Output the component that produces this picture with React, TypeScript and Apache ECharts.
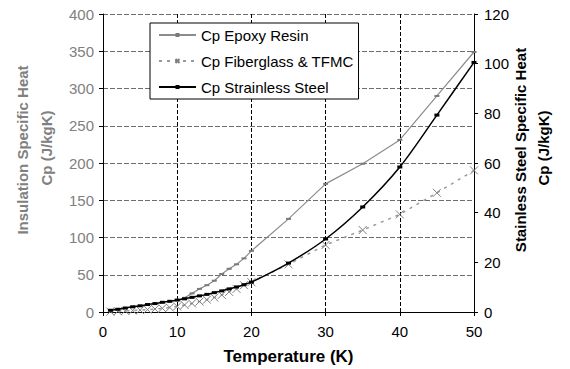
import React, { useEffect, useRef } from "react";
import * as echarts from "echarts";

const steelT = [1, 2, 3, 4, 5, 6, 7, 8, 9, 10, 11, 12, 13, 14, 15, 16, 17, 18, 19, 20, 25, 30, 35, 40, 45, 50];
const steelCp = [0.7, 1.1, 1.6, 2.1, 2.5, 3.0, 3.4, 3.9, 4.3, 4.8, 5.3, 5.9, 6.5, 7.1, 7.8, 8.5, 9.3, 10.1, 11.0, 12.0, 19.7, 29.4, 42.3, 58.4, 79.3, 100.5];

const epoxyT = [10, 11, 12, 13, 14, 15, 16, 17, 18, 19, 20, 25, 30, 35, 40, 45, 50];
const epoxyCp = [16, 19, 25, 31, 36, 42, 51, 58, 64, 72, 82, 125, 172, 199, 231, 290, 349];

const fiberT = [1, 2, 3, 4, 5, 6, 7, 8, 9, 10, 11, 12, 13, 14, 15, 16, 17, 18, 19, 20, 25, 30, 35, 40, 45, 50];
const fiberCp = [0.5, 1, 1.5, 2, 2.5, 3.2, 4, 5, 6, 7.5, 9.5, 11.5, 14, 16.5, 19.5, 23, 27, 31, 36, 40, 64, 90, 110, 131, 160, 190];

const FONT = "'Liberation Sans', Arial, sans-serif";

export default function App() {
  const ref = useRef<HTMLDivElement>(null);
  useEffect(() => {
    if (!ref.current) return;
    const chart = echarts.init(ref.current, undefined, { renderer: "svg" });
    const pairs = (xs: number[], ys: number[]) => xs.map((x, i) => [x, ys[i]]);
    chart.setOption({
      animation: false,
      backgroundColor: "#ffffff",
      textStyle: { fontFamily: FONT },
      grid: { left: 103, right: 96, top: 14, bottom: 57 },
      legend: {
        orient: "vertical",
        left: 150,
        top: 23,
        backgroundColor: "#ffffff",
        borderColor: "#000000",
        borderWidth: 1,
        borderRadius: 0,
        padding: [4.5, 5, 4.5, 8],
        itemWidth: 37,
        itemHeight: 5,
        itemGap: 11,
        textStyle: { fontFamily: FONT, fontSize: 15, color: "#000000" },
        data: ["Cp Epoxy Resin", "Cp Fiberglass & TFMC", "Cp Strainless Steel"],
      },
      xAxis: {
        type: "value",
        min: 0,
        max: 50,
        interval: 10,
        axisLine: { show: true, lineStyle: { color: "#000", width: 1 } },
        axisTick: { show: true, length: 4, lineStyle: { color: "#000" } },
        axisLabel: { color: "#000", fontSize: 15, fontFamily: FONT, margin: 12 },
        splitLine: { show: true, lineStyle: { type: [4, 2], color: "#000", width: 1 } },
      },
      yAxis: [
        {
          type: "value",
          min: 0,
          max: 400,
          interval: 50,
          position: "left",
          axisLine: { show: true, lineStyle: { color: "#000", width: 1 } },
          axisTick: { show: true, length: 4, lineStyle: { color: "#000" } },
          axisLabel: { color: "#808080", fontSize: 15, fontFamily: FONT, margin: 9 },
          splitLine: { show: true, lineStyle: { type: [5, 2], color: "#6e6e6e", width: 1 } },
        },
        {
          type: "value",
          min: 0,
          max: 120,
          interval: 20,
          position: "right",
          axisLine: { show: true, lineStyle: { color: "#000", width: 1 } },
          axisTick: { show: true, length: 4, lineStyle: { color: "#000" } },
          axisLabel: { color: "#000", fontSize: 15, fontFamily: FONT, margin: 10 },
          splitLine: { show: false },
        },
      ],
      series: [
        {
          name: "Cp Epoxy Resin",
          type: "line",
          yAxisIndex: 0,
          data: pairs(epoxyT, epoxyCp),
          lineStyle: { color: "#8c8c8c", width: 1.2 },
          itemStyle: { color: "#7a7a7a" },
          symbol: "rect",
          symbolSize: [5, 2],
          showSymbol: true,
          z: 2,
        },
        {
          name: "Cp Fiberglass & TFMC",
          type: "line",
          yAxisIndex: 0,
          data: pairs(fiberT, fiberCp),
          lineStyle: { color: "#999999", width: 1.5, type: [3, 5] },
          itemStyle: { color: "none", borderColor: "#7f7f7f", borderWidth: 1 },
          symbol: "path://M0,0L10,10M10,0L0,10",
          symbolSize: 8,
          showSymbol: true,
          z: 2,
        },
        {
          name: "Cp Strainless Steel",
          type: "line",
          yAxisIndex: 1,
          data: pairs(steelT, steelCp),
          smooth: 0.3,
          lineStyle: { color: "#000000", width: 1.5 },
          itemStyle: { color: "#000000" },
          symbol: "rect",
          symbolSize: [5, 3],
          showSymbol: true,
          z: 3,
        },
      ],
      graphic: [
        {
          type: "text",
          x: 22,
          y: 150,
          rotation: Math.PI / 2,
          style: {
            text: "Insulation Specific Heat",
            fill: "#808080",
            font: `bold 15px ${FONT}`,
            align: "center",
            verticalAlign: "middle",
          },
        },
        {
          type: "text",
          x: 46,
          y: 148,
          rotation: Math.PI / 2,
          style: {
            text: "Cp (J/kgK)",
            fill: "#808080",
            font: `bold 15px ${FONT}`,
            align: "center",
            verticalAlign: "middle",
          },
        },
        {
          type: "text",
          x: 520,
          y: 150,
          rotation: Math.PI / 2,
          style: {
            text: "Stainless Steel Specific Heat",
            fill: "#000",
            font: `bold 15px ${FONT}`,
            align: "center",
            verticalAlign: "middle",
          },
        },
        {
          type: "text",
          x: 543,
          y: 148,
          rotation: Math.PI / 2,
          style: {
            text: "Cp (J/kgK)",
            fill: "#000",
            font: `bold 15px ${FONT}`,
            align: "center",
            verticalAlign: "middle",
          },
        },
        {
          type: "text",
          x: 288.5,
          y: 356,
          style: {
            text: "Temperature (K)",
            fill: "#000",
            font: `bold 17px ${FONT}`,
            align: "center",
            verticalAlign: "middle",
          },
        },
      ],
    });
    return () => chart.dispose();
  }, []);
  return <div ref={ref} style={{ width: 570, height: 369, position: "fixed", left: 0, top: 0 }} />;
}
